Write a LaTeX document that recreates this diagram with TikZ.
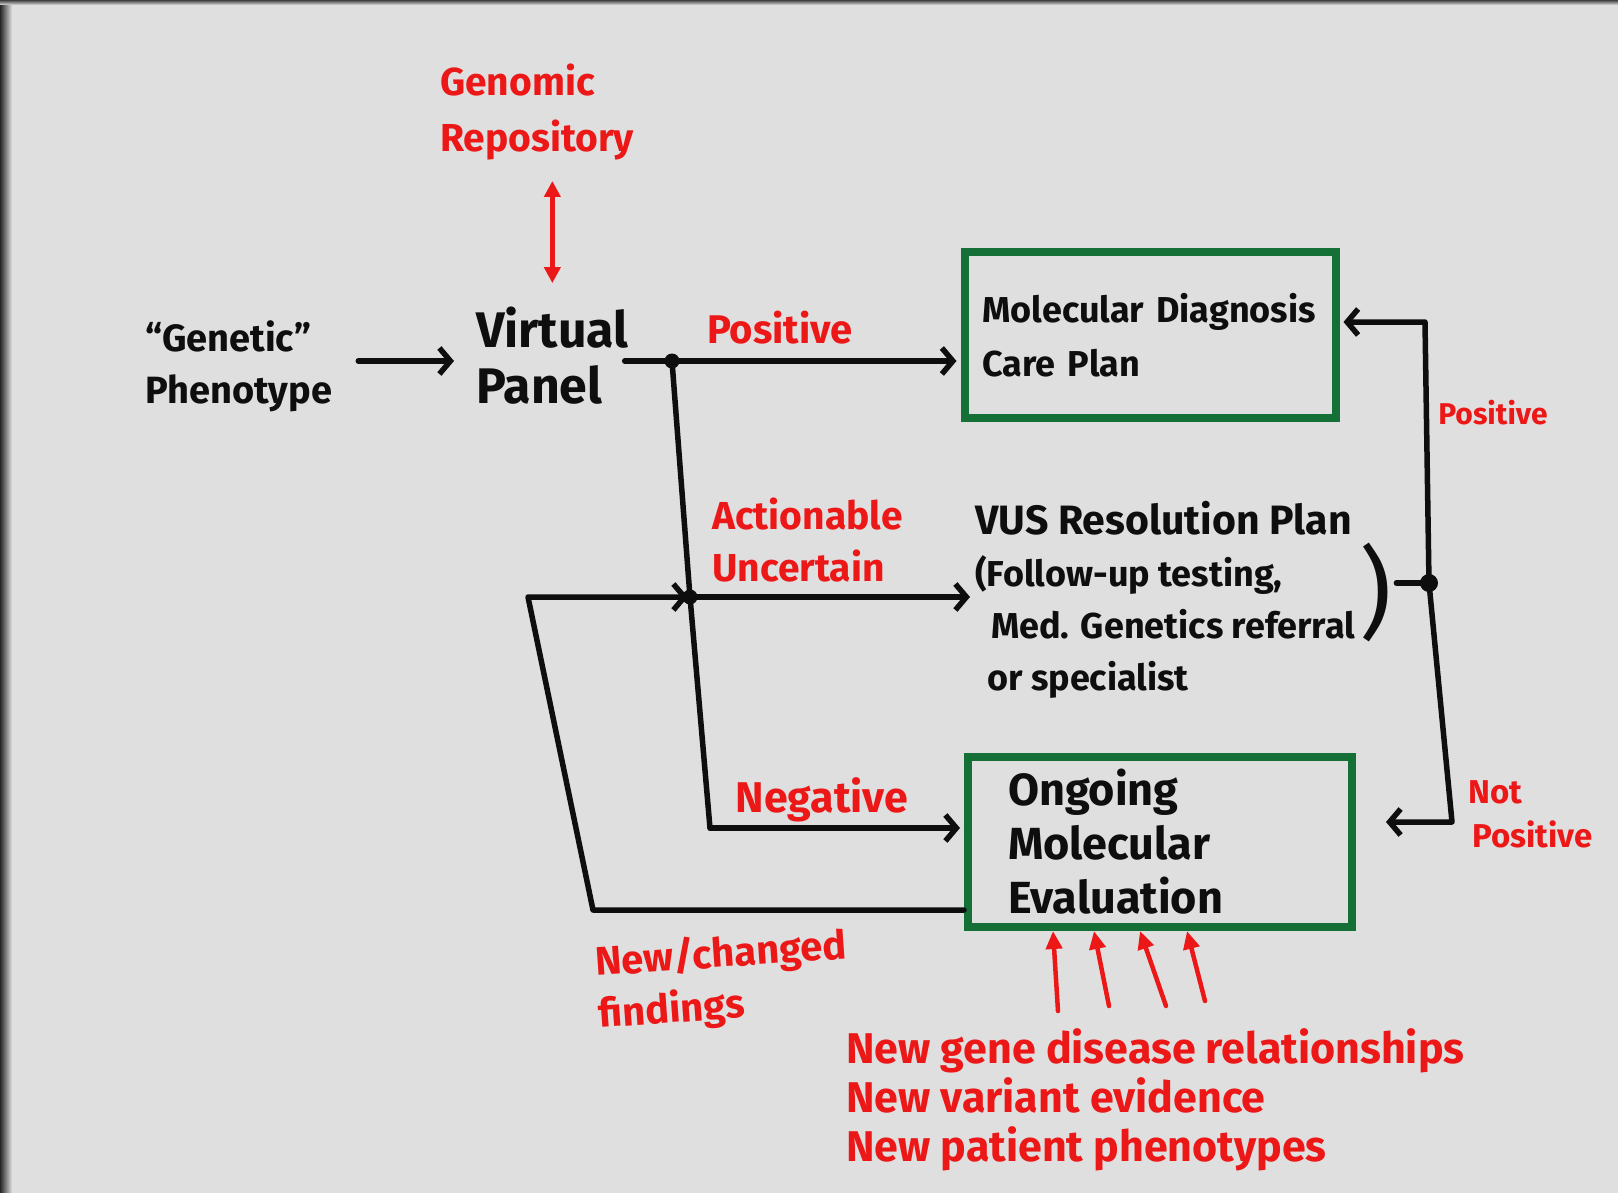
\documentclass[tikz,border=0pt]{standalone}
\usepackage{fontspec}
\setmainfont{Fira Sans}
\usetikzlibrary{arrows.meta,calc}

\definecolor{board}{RGB}{223,223,223}
\definecolor{ink}{RGB}{14,14,14}
\definecolor{redink}{RGB}{236,24,24}
\definecolor{greenink}{RGB}{20,112,54}

\newcommand{\fs}[2]{\fontsize{#1}{#2}\selectfont\bfseries}

\begin{document}
\begin{tikzpicture}[x=1pt,y=-1pt,
  blacktext/.style={text=ink, font=\fs{36}{52}, align=left, inner sep=0pt},
  redtext/.style={text=redink, font=\fs{38}{52}, align=left, inner sep=0pt},
  greenbox/.style={draw=greenink, line width=8pt, rectangle, align=left, text=ink},
  flow/.style={draw=ink, line width=5.5pt, line cap=round, line join=round},
  flowarrow/.style={flow, -{Straight Barb[length=11pt,width=26pt]}},
  redarrow/.style={draw=redink, line width=4.5pt, line cap=round,
    -{Triangle[length=18pt,width=16pt]}},
  redboth/.style={draw=redink, line width=4.5pt,
    {Triangle[length=16pt,width=16pt]}-{Triangle[length=16pt,width=16pt]}},
  joint/.style={fill=ink}
]
% whiteboard surface with its dark rim on the top and left
\fill[board] (0,0) rectangle (1618,1193);
\useasboundingbox (0,0) rectangle (1618,1193);
\shade[left color=black!85, right color=board] (0,0) rectangle (12,1193);
\shade[top color=black!75, bottom color=board] (0,0) rectangle (1618,5);

% ---- text nodes ----
\node[redtext, anchor=south west, font=\fs{39}{56}] (repo) at (440,160) {Genomic\\Repository};
\node[blacktext, anchor=west, font=\fs{38}{52}] (pheno) at (145,366) {“Genetic”\\Phenotype};
\node[blacktext, anchor=west, font=\fs{50}{56}] (vpanel) at (476,356) {Virtual\\Panel};

\node[greenbox, minimum height=165pt, text width=335pt, inner xsep=18pt, font=\fs{36}{54}] (dx)
  at (1150,335) {Molecular Diagnosis\\Care Plan};
\node[greenbox, minimum height=170pt, text width=304pt, inner xsep=40pt, font=\fs{45}{54}] (ongoing)
  at (1160,842) {Ongoing\\Molecular\\Evaluation};

\node[blacktext, anchor=west] (vus) at (975,600)
  {{\fs{41}{52}VUS Resolution Plan}\\(Follow-up testing,\\\hspace{16pt}Med. Genetics referral\\\hspace{12pt}or specialist};
\node[text=ink, font=\fontsize{100}{100}\selectfont, inner sep=0pt] (paren) at (1376,592) {)};

\node[redtext, font=\fs{40}{52}] (lpos) at (780,328) {Positive};
\node[redtext, anchor=west, font=\fs{39}{52}] (lact) at (712,540) {Actionable\\Uncertain};
\node[redtext, font=\fs{43}{52}] (lneg) at (822,800) {Negative};
\node[redtext, font=\fs{30}{40}] (lpos2) at (1493,413) {Positive};
\node[redtext, anchor=west, font=\fs{33}{44}] (lnotpos) at (1468,814) {Not\\\hspace{4pt}Positive};
\node[redtext, anchor=west, rotate=4, font=\fs{40}{52}] (lnew) at (597,990) {New/changed\\findings};
\node[redtext, anchor=west, font=\fs{43}{49}] (newinfo) at (846,1100)
  {New gene disease relationships\\New variant evidence\\New patient phenotypes};

% ---- junctions and corners ----
\coordinate (j1) at (672,361);
\coordinate (j2) at (690,597);
\coordinate (jn) at (710,828);
\coordinate (fb1) at (593,910);
\coordinate (fb2) at (528,597);
\coordinate (j3) at (1429,583);
\coordinate (rt) at (1425,322);
\coordinate (rb) at (1452,822);
\coordinate (b1) at (1058,1011);
\coordinate (b2) at (1109,1006);
\coordinate (b3) at (1166,1006);
\coordinate (b4) at (1205,1001);

% ---- connectors ----
\draw[redboth, shorten <=21pt, shorten >=24pt] (repo.south -| vpanel.north) -- (vpanel.north);
\draw[flowarrow, shorten <=26pt, shorten >=22pt] (pheno.east |- j1) -- (vpanel.west |- j1);

\draw[flow, shorten <=-4pt] (vpanel.east |- j1) -- (j1);
\draw[flowarrow, shorten >=4pt] (j1) -- (j1 -| dx.west);
\draw[flow] (j1) -- (j2) -- (jn);
\draw[flowarrow, shorten >=5pt] (j2) -- (j2 -| vus.west);
\draw[flowarrow, shorten >=4pt] (jn) -- (jn -| ongoing.west);
\draw[flowarrow, shorten >=2pt] (ongoing.west |- fb1) -- (fb1) -- (fb2) -- (j2);

\draw[flow, shorten <=4pt] (paren.east |- j3) -- (j3);
\draw[flowarrow, shorten >=4pt] (j3) -- (rt) -- (rt -| dx.east);
\draw[flowarrow, shorten >=30pt] (j3) -- (rb) -- (rb -| ongoing.east);

\fill[joint] (j1) circle (7.5pt);
\fill[joint] (j2) circle (7.5pt);
\fill[joint] (j3) circle (9pt);

\draw[redarrow] (b1) -- (1053,0 |- ongoing.south);
\draw[redarrow] (b2) -- (1094,0 |- ongoing.south);
\draw[redarrow] (b3) -- (1140,0 |- ongoing.south);
\draw[redarrow] (b4) -- (1187,0 |- ongoing.south);
\end{tikzpicture}
\end{document}
